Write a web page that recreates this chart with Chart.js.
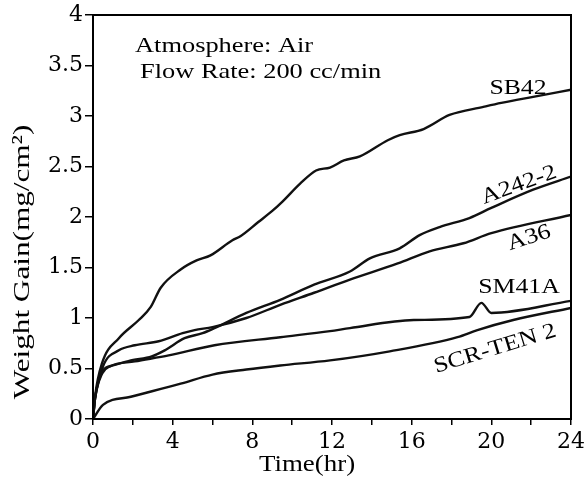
<!DOCTYPE html>
<html>
<head>
<meta charset="utf-8">
<script src="https://cdn.jsdelivr.net/npm/chart.js@4/dist/chart.umd.min.js"></script>
<style>
  html, body { margin: 0; padding: 0; background: #fff; }
  #wrap { width: 585px; height: 486px; }
</style>
</head>
<body>
<div id="wrap"><canvas id="grafico" width="585" height="486"></canvas></div>
<script>
// values (time in hr, weight gain in mg/cm2)
const sb42Time = [0, 0.1, 0.45, 1.3, 2.3, 2.9, 3.4, 4.4, 5.2, 5.9, 7.0, 7.4, 8.3, 9.0, 9.5, 10.4, 11.2, 11.9, 12.6, 13.4, 14.8, 15.4, 16.6, 17.9, 19.6, 20.5, 22.1, 24];
const sb42Gain = [0, 0.22, 0.55, 0.80, 0.98, 1.11, 1.30, 1.48, 1.57, 1.62, 1.77, 1.81, 1.95, 2.06, 2.15, 2.33, 2.46, 2.49, 2.56, 2.60, 2.76, 2.81, 2.87, 3.01, 3.09, 3.13, 3.19, 3.26];

const a2422Time = [0, 0.1, 0.5, 1.0, 1.9, 2.95, 3.6, 4.6, 5.5, 6.1, 7.7, 9.4, 11.1, 12.9, 13.9, 15.4, 16.4, 17.4, 18.9, 20.0, 22.1, 24];
const a2422Gain = [0, 0.2, 0.48, 0.53, 0.58, 0.62, 0.68, 0.80, 0.85, 0.90, 1.05, 1.18, 1.33, 1.46, 1.59, 1.69, 1.82, 1.90, 1.99, 2.09, 2.27, 2.40];

const a36Time = [0, 0.1, 0.5, 1.3, 2.1, 3.3, 4.5, 5.1, 6.0, 7.7, 9.4, 11.1, 12.9, 15.3, 16.9, 18.6, 20.0, 24];
const a36Gain = [0, 0.2, 0.52, 0.68, 0.73, 0.77, 0.85, 0.88, 0.91, 1.00, 1.13, 1.25, 1.38, 1.54, 1.66, 1.74, 1.84, 2.02];

const sm41aTime = [0, 0.1, 0.46, 0.85, 2.1, 3.8, 6.1, 9.4, 11.9, 12.9, 16.1, 18.9, 19.5, 20.0, 24];
const sm41aGain = [0, 0.2, 0.45, 0.52, 0.57, 0.63, 0.73, 0.81, 0.87, 0.90, 0.98, 1.01, 1.15, 1.05, 1.17];

const scrTime = [0, 0.5, 1.9, 4.4, 6.0, 7.7, 9.4, 11.9, 14.9, 18.3, 19.3, 21.1, 24];
const scrGain = [0, 0.14, 0.22, 0.35, 0.44, 0.49, 0.53, 0.58, 0.67, 0.81, 0.88, 0.98, 1.10];

const xTicks = [0, 4, 8, 12, 16, 20, 24];

const serie = (t, g) => t.map((v, i) => ({ x: v, y: g[i] }));

const textFont = '"Liberation Serif", "Times New Roman", serif';

// texts drawn on top of the plot
function escreve(ctx, txt, x, y, ang, size, sx) {
    ctx.save();
    ctx.translate(x, y);
    ctx.rotate(ang * Math.PI / 180);
    ctx.scale(sx || 1.17, 1);
    ctx.font = size + 'px ' + textFont;
    ctx.fillStyle = '#000';
    ctx.textAlign = 'center';
    ctx.textBaseline = 'middle';
    ctx.fillText(txt, 0, 0);
    ctx.restore();
}

const moldura = {
    id: 'moldura',
    afterDraw(chart) {
        const { ctx, chartArea } = chart;
        ctx.save();
        ctx.strokeStyle = '#000';
        ctx.lineWidth = 2;
        ctx.strokeRect(chartArea.left, chartArea.top, chartArea.right - chartArea.left, chartArea.bottom - chartArea.top);
        ctx.restore();

        ctx.save();
        ctx.font = '22px ' + textFont;
        ctx.fillStyle = '#000';
        ctx.textBaseline = 'middle';
        ctx.translate(135, 46);
        ctx.scale(1.2, 1);
        ctx.fillText('Atmosphere: Air', 0, 0);
        ctx.restore();
        ctx.save();
        ctx.font = '22px ' + textFont;
        ctx.fillStyle = '#000';
        ctx.textBaseline = 'middle';
        ctx.translate(140, 72);
        ctx.scale(1.2, 1);
        ctx.fillText('Flow Rate: 200 cc/min', 0, 0);
        ctx.restore();

        escreve(ctx, 'SB42', 518, 88, 0, 22);
        escreve(ctx, 'A242-2', 519, 185, -20, 22);
        escreve(ctx, 'A36', 529, 238, -18, 22);
        escreve(ctx, 'SM41A', 519, 287, 0, 22);
        escreve(ctx, 'SCR-TEN 2', 495, 349, -17, 22);

        escreve(ctx, 'Time(hr)', 307, 465, 0, 23);

        ctx.save();
        ctx.translate(23, 262);
        ctx.rotate(-Math.PI / 2);
        ctx.scale(1.3, 1);
        ctx.font = '24px ' + textFont;
        ctx.fillStyle = '#000';
        ctx.textAlign = 'center';
        ctx.textBaseline = 'middle';
        ctx.fillText('Weight Gain(mg/cm²)', 0, 0);
        ctx.restore();
    }
};

const linha = {
    borderColor: '#111',
    borderWidth: 2.4,
    pointRadius: 0,
    fill: false,
    cubicInterpolationMode: 'monotone'
};

const configGrafico = {
    type: 'line',
    data: {
        datasets: [
            { ...linha, label: 'SB42', data: serie(sb42Time, sb42Gain) },
            { ...linha, label: 'A242-2', data: serie(a2422Time, a2422Gain) },
            { ...linha, label: 'A36', data: serie(a36Time, a36Gain) },
            { ...linha, label: 'SM41A', data: serie(sm41aTime, sm41aGain) },
            { ...linha, label: 'SCR-TEN 2', data: serie(scrTime, scrGain) }
        ]
    },
    options: {
        responsive: false,
        animation: false,
        layout: { padding: { left: 0, right: 14, top: 15, bottom: 0 } },
        plugins: { legend: { display: false }, tooltip: { enabled: false } },
        scales: {
            x: {
                type: 'linear',
                min: 0,
                max: 24,
                ticks: {
                    stepSize: 2,
                    autoSkip: false,
                    maxRotation: 0,
                    padding: 4,
                    color: '#000',
                    font: { family: '"DejaVu Serif"', size: 22 },
                    callback: v => xTicks.includes(v) ? String(v) : ''
                },
                grid: { drawOnChartArea: false, tickLength: 6, color: '#000', lineWidth: 1.5 },
                border: { color: '#000', width: 2 },
                afterFit: s => { s.height = 67; s.paddingRight = 0; }
            },
            y: {
                min: 0,
                max: 4,
                ticks: {
                    stepSize: 0.5,
                    padding: 2,
                    color: '#000',
                    font: { family: '"DejaVu Serif"', size: 22 },
                    callback: v => String(Number(v))
                },
                grid: { drawOnChartArea: false, tickLength: 8, color: '#000', lineWidth: 1.5 },
                border: { color: '#000', width: 2 },
                afterFit: s => { s.width = 93; s.paddingTop = 0; }
            }
        }
    },
    plugins: [moldura]
};

const grafico = new Chart(document.getElementById('grafico'), configGrafico);
</script>
</body>
</html>
